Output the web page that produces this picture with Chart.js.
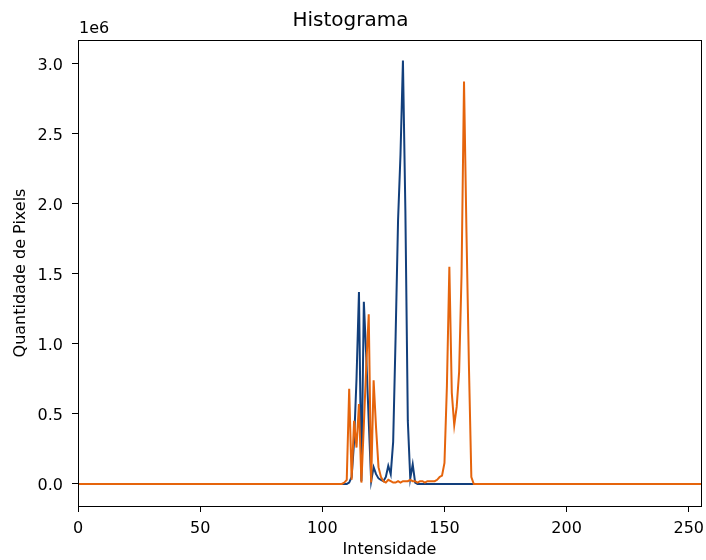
<!DOCTYPE html>
<html>
<head>
<meta charset="utf-8">
<script src="https://cdn.jsdelivr.net/npm/chart.js@4.4.1/dist/chart.umd.min.js"></script>
<style>
  body { margin: 0; background: #fff; }
  canvas { display: block; }
</style>
</head>
<body>
<canvas id="histograma" width="706" height="560"></canvas>
<script>
// intensidades 0..255 (eixo x)
const intensidades = Array.from({ length: 256 }, (_, i) => i);

// quantidade de pixels por intensidade
const canalAzul = [
  0, 0, 0, 0, 0, 0, 0, 0, 0, 0, 0, 0, 0, 0, 0, 0,
  0, 0, 0, 0, 0, 0, 0, 0, 0, 0, 0, 0, 0, 0, 0, 0,
  0, 0, 0, 0, 0, 0, 0, 0, 0, 0, 0, 0, 0, 0, 0, 0,
  0, 0, 0, 0, 0, 0, 0, 0, 0, 0, 0, 0, 0, 0, 0, 0,
  0, 0, 0, 0, 0, 0, 0, 0, 0, 0, 0, 0, 0, 0, 0, 0,
  0, 0, 0, 0, 0, 0, 0, 0, 0, 0, 0, 0, 0, 0, 0, 0,
  0, 0, 0, 0, 0, 0, 0, 0, 0, 0, 0, 0, 0, 0, 0, 10000,
  50000, 300000, 750000, 1370000, 20000, 1300000, 900000, 450000, 20000, 120000, 70000, 40000, 30000, 20000, 50000, 130000,
  70000, 300000, 1050000, 1880000, 2350000, 3020000, 1950000, 450000, 40000, 140000, 10000, 0, 0, 0, 0, 0,
  0, 0, 0, 0, 0, 0, 0, 0, 0, 0, 0, 0, 0, 0, 0, 0,
  0, 0, 0, 0, 0, 0, 0, 0, 0, 0, 0, 0, 0, 0, 0, 0,
  0, 0, 0, 0, 0, 0, 0, 0, 0, 0, 0, 0, 0, 0, 0, 0,
  0, 0, 0, 0, 0, 0, 0, 0, 0, 0, 0, 0, 0, 0, 0, 0,
  0, 0, 0, 0, 0, 0, 0, 0, 0, 0, 0, 0, 0, 0, 0, 0,
  0, 0, 0, 0, 0, 0, 0, 0, 0, 0, 0, 0, 0, 0, 0, 0,
  0, 0, 0, 0, 0, 0, 0, 0, 0, 0, 0, 0, 0, 0, 0, 0,
];

const canalLaranja = [
  0, 0, 0, 0, 0, 0, 0, 0, 0, 0, 0, 0, 0, 0, 0, 0,
  0, 0, 0, 0, 0, 0, 0, 0, 0, 0, 0, 0, 0, 0, 0, 0,
  0, 0, 0, 0, 0, 0, 0, 0, 0, 0, 0, 0, 0, 0, 0, 0,
  0, 0, 0, 0, 0, 0, 0, 0, 0, 0, 0, 0, 0, 0, 0, 0,
  0, 0, 0, 0, 0, 0, 0, 0, 0, 0, 0, 0, 0, 0, 0, 0,
  0, 0, 0, 0, 0, 0, 0, 0, 0, 0, 0, 0, 0, 0, 0, 0,
  0, 0, 0, 0, 0, 0, 0, 0, 0, 0, 0, 0, 0, 10000, 30000, 680000,
  30000, 450000, 260000, 570000, 10000, 420000, 850000, 1210000, 10000, 740000, 400000, 120000, 50000, 20000, 10000, 30000,
  20000, 10000, 10000, 20000, 10000, 20000, 20000, 20000, 30000, 20000, 20000, 10000, 20000, 20000, 10000, 20000,
  20000, 20000, 20000, 30000, 50000, 60000, 150000, 700000, 1550000, 650000, 420000, 550000, 800000, 1500000, 2870000, 1800000,
  850000, 50000, 0, 0, 0, 0, 0, 0, 0, 0, 0, 0, 0, 0, 0, 0,
  0, 0, 0, 0, 0, 0, 0, 0, 0, 0, 0, 0, 0, 0, 0, 0,
  0, 0, 0, 0, 0, 0, 0, 0, 0, 0, 0, 0, 0, 0, 0, 0,
  0, 0, 0, 0, 0, 0, 0, 0, 0, 0, 0, 0, 0, 0, 0, 0,
  0, 0, 0, 0, 0, 0, 0, 0, 0, 0, 0, 0, 0, 0, 0, 0,
  0, 0, 0, 0, 0, 0, 0, 0, 0, 0, 0, 0, 0, 0, 0, 0,
];

const ticksX = [0, 50, 100, 150, 200, 250];
const ticksY = [0, 500000, 1000000, 1500000, 2000000, 2500000, 3000000];

const fonte = "'DejaVu Sans', sans-serif";

// caixa fechada + texto "1e6" no estilo do matplotlib
const moldura = {
  id: 'moldura',
  afterDraw(chart) {
    const { ctx, chartArea } = chart;
    ctx.save();
    ctx.strokeStyle = '#000';
    ctx.lineWidth = 1;
    ctx.strokeRect(chartArea.left + 0.5, chartArea.top + 0.5,
      chartArea.right - chartArea.left, chartArea.bottom - chartArea.top);
    ctx.fillStyle = '#000';
    ctx.font = '16px ' + fonte;
    ctx.textAlign = 'left';
    ctx.textBaseline = 'alphabetic';
    ctx.fillText('1e6', chartArea.left + 1, 33);
    ctx.restore();
  },
};

const semPadding = (scale) => {
  scale.paddingLeft = 0;
  scale.paddingRight = 0;
  scale.paddingTop = 0;
  scale.paddingBottom = 0;
};

new Chart(document.getElementById('histograma'), {
  type: 'line',
  data: {
    datasets: [
      {
        label: 'azul',
        data: intensidades.map((x, i) => ({ x, y: canalAzul[i] })),
        borderColor: '#123f7c',
        borderWidth: 2,
        pointRadius: 0,
        tension: 0,
        fill: false,
        order: 2,
      },
      {
        label: 'laranja',
        data: intensidades.map((x, i) => ({ x, y: canalLaranja[i] })),
        borderColor: '#e5640c',
        borderWidth: 2,
        pointRadius: 0,
        tension: 0,
        fill: false,
        order: 1,
      },
    ],
  },
  options: {
    responsive: false,
    animation: false,
    layout: { padding: { top: 0, right: 5, bottom: 0, left: 0 } },
    plugins: {
      legend: { display: false },
      tooltip: { enabled: false },
      title: {
        display: true,
        text: 'Histograma',
        color: '#000',
        font: { family: fonte, size: 20, weight: 'normal' },
        padding: { top: 9, bottom: 7 },
      },
    },
    scales: {
      x: {
        type: 'linear',
        min: 0,
        max: 255,
        afterBuildTicks: (scale) => { scale.ticks = ticksX.map((v) => ({ value: v })); },
        afterFit: (scale) => { scale.height = 54; semPadding(scale); },
        ticks: {
          autoSkip: false,
          maxRotation: 0,
          padding: 7,
          color: '#000',
          font: { family: fonte, size: 16 },
        },
        grid: { drawOnChartArea: false, drawTicks: true, tickLength: 6, color: '#000' },
        border: { display: true, color: '#000', width: 1 },
        title: {
          display: true,
          text: 'Intensidade',
          color: '#000',
          font: { family: fonte, size: 16 },
          padding: { top: 0, bottom: 1 },
        },
      },
      y: {
        type: 'linear',
        min: -157000,
        max: 3167000,
        afterBuildTicks: (scale) => { scale.ticks = ticksY.map((v) => ({ value: v })); },
        afterFit: (scale) => { scale.width = 78; semPadding(scale); },
        ticks: {
          padding: 9,
          labelOffset: 2,
          color: '#000',
          font: { family: fonte, size: 16 },
          callback: (v) => (v / 1e6).toFixed(1),
        },
        grid: { drawOnChartArea: false, drawTicks: true, tickLength: 6, color: '#000' },
        border: { display: true, color: '#000', width: 1 },
        title: {
          display: true,
          text: 'Quantidade de Pixels',
          color: '#000',
          font: { family: fonte, size: 16 },
          padding: { top: 11, bottom: 0 },
        },
      },
    },
  },
  plugins: [moldura],
});
</script>
</body>
</html>
